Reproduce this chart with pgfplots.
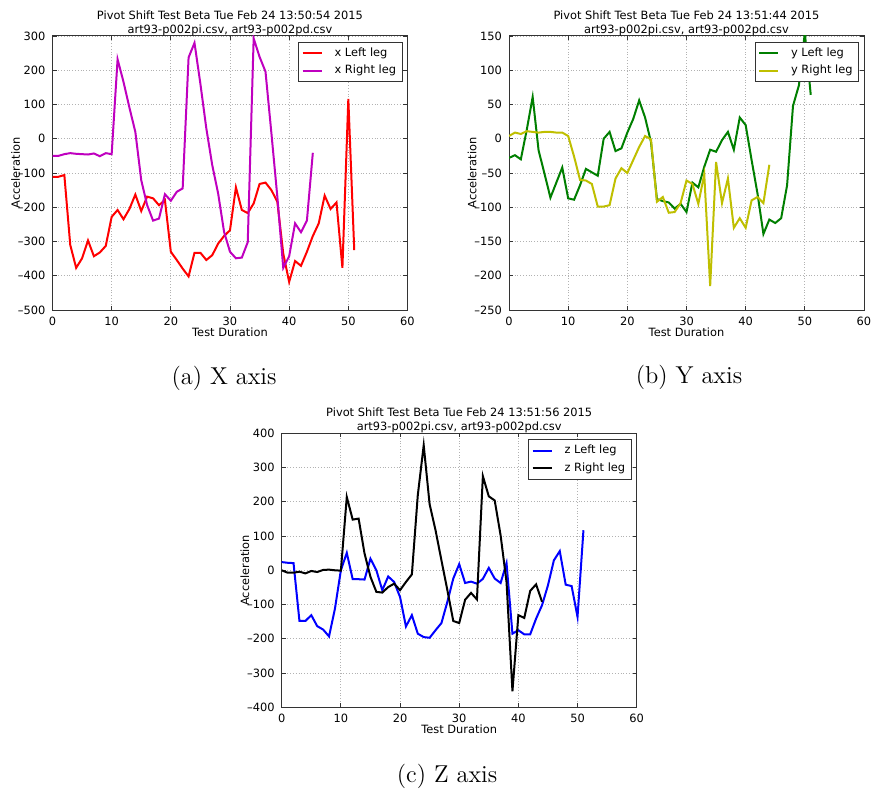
\documentclass[border=0pt]{standalone}
\usepackage{pgfplots}
\pgfplotsset{compat=1.18}
\usepackage{fontspec}
\newfontfamily\dejavu{DejaVu Sans}
\newcommand\cf{\dejavu\fontsize{5.7}{6.8}\selectfont}
\definecolor{mplr}{HTML}{FF0000}
\definecolor{mplm}{HTML}{BF00BF}
\definecolor{mplg}{HTML}{007F00}
\definecolor{mply}{HTML}{BFBF00}
\definecolor{mplb}{HTML}{0000FF}
\pgfplotsset{mpl/.style={
  scale only axis, width=177.5pt, height=137pt,
  xmin=0, xmax=60, xtick={0,10,...,60},
  tick align=inside, major tick length=2pt,
  grid=major, major grid style={densely dotted, gray!60, line width=0.4pt},
  axis line style={line width=0.5pt, black!80},
  every tick/.style={black!80, line width=0.4pt},
  tick label style={font=\cf},
  /pgf/number format/assume math mode=true,
  label style={font=\cf},
  xlabel={Test Duration}, ylabel={Acceleration},
  xlabel style={at={(axis description cs:0.5,-0.08)}, anchor=center},
  ylabel style={at={(axis description cs:-0.104,0.5)}, anchor=center},
  title style={font=\cf, align=center, at={(axis description cs:0.5,1)}, anchor=south, inner sep=0pt, yshift=-6pt},
  legend style={at={(rel axis cs:0.986,0.978)}, anchor=north east, font=\cf,
    draw=black!80, line width=0.5pt, inner xsep=1.5pt, inner ysep=1pt,
    nodes={inner sep=1.5pt, text depth=0.15em},
    /tikz/every odd column/.append style={column sep=4.5pt}},
  legend cell align=left,
  legend image code/.code={\draw[##1, line width=1pt] (0pt,0pt) -- (9.5pt,0pt);},
  every axis plot/.append style={line width=1pt},
}}
\begin{document}
\begin{tikzpicture}
\useasboundingbox (0,0) rectangle (435.5pt,-395.5pt);
% (a)
\begin{axis}[mpl, at={(26.25pt,-18pt)}, anchor=north west,
  ymin=-500, ymax=300, ytick={-500,-400,...,300},
  yticklabels={–500,–400,–300,–200,–100,0,100,200,300},
  title={Pivot Shift Test Beta Tue Feb 24 13:50:54 2015\\art93-p002pi.csv, art93-p002pd.csv}]
\addplot[mplr] coordinates {(0,-111)(1,-111)(2,-106)(3,-310)(4,-377)(5,-349)(6,-297)(7,-343)(8,-332)(9,-313)(10,-228)(11,-208)(12,-235)(13,-205)(14,-163)(15,-211)(16,-169)(17,-174)(18,-194)(19,-179)(20,-330)(21,-354)(22,-379)(23,-402)(24,-333)(25,-333)(26,-354)(27,-340)(28,-306)(29,-284)(30,-267)(31,-142)(32,-208)(33,-217)(34,-189)(35,-132)(36,-128)(37,-150)(38,-184)(39,-335)(40,-418)(41,-357)(42,-371)(43,-330)(44,-284)(45,-247)(46,-166)(47,-205)(48,-186)(49,-377)(50,116)(51,-325)};
\addlegendentry{x Left leg}
\addplot[mplm] coordinates {(0,-50)(1,-50)(2,-45)(3,-42)(4,-44)(5,-45)(6,-46)(7,-43)(8,-51)(9,-42)(10,-45)(11,232)(12,166)(13,91)(14,20)(15,-121)(16,-194)(17,-239)(18,-233)(19,-162)(20,-181)(21,-155)(22,-145)(23,237)(24,280)(25,160)(26,30)(27,-77)(28,-160)(29,-272)(30,-330)(31,-349)(32,-347)(33,-302)(34,293)(35,239)(36,196)(37,16)(38,-169)(39,-377)(40,-343)(41,-247)(42,-273)(43,-239)(44,-41)};
\addlegendentry{x Right leg}
\end{axis}
% (b)
\begin{axis}[mpl, at={(254.5pt,-18pt)}, anchor=north west,
  ymin=-250, ymax=150, ytick={-250,-200,...,150},
  yticklabels={–250,–200,–150,–100,–50,0,50,100,150},
  title={Pivot Shift Test Beta Tue Feb 24 13:51:44 2015\\art93-p002pi.csv, art93-p002pd.csv}]
\addplot[mplg] coordinates {(0,-28)(1,-24)(2,-30)(3,13)(4,61)(5,-17)(6,-51)(7,-86)(8,-64)(9,-42)(10,-87)(11,-89)(12,-68)(13,-44)(14,-49)(15,-54)(16,0)(17,10)(18,-18)(19,-14)(20,9)(21,29)(22,56)(23,31)(24,-5)(25,-88)(26,-91)(27,-93)(28,-102)(29,-95)(30,-107)(31,-64)(32,-71)(33,-41)(34,-16)(35,-19)(36,-2)(37,10)(38,-16)(39,31)(40,20)(41,-31)(42,-80)(43,-139)(44,-118)(45,-123)(46,-116)(47,-68)(48,48)(49,78)(50,155)(51,64)};
\addlegendentry{y Left leg}
\addplot[mply] coordinates {(0,4)(1,9)(2,7)(3,11)(4,10)(5,9)(6,10)(7,10)(8,9)(9,9)(10,4)(11,-26)(12,-60)(13,-61)(14,-66)(15,-99)(16,-99)(17,-97)(18,-58)(19,-43)(20,-50)(21,-31)(22,-12)(23,4)(24,-1)(25,-92)(26,-85)(27,-108)(28,-107)(29,-94)(30,-61)(31,-66)(32,-95)(33,-52)(34,-215)(35,-34)(36,-94)(37,-58)(38,-130)(39,-116)(40,-130)(41,-90)(42,-85)(43,-94)(44,-38)};
\addlegendentry{y Right leg}
\end{axis}
% (c)
\begin{axis}[mpl, at={(140.85pt,-216.65pt)}, anchor=north west,
  ymin=-400, ymax=400, ytick={-400,-300,...,400},
  yticklabels={–400,–300,–200,–100,0,100,200,300,400},
  title={Pivot Shift Test Beta Tue Feb 24 13:51:56 2015\\art93-p002pi.csv, art93-p002pd.csv}]
\addplot[mplb] coordinates {(0,24)(1,22)(2,21)(3,-148)(4,-148)(5,-131)(6,-163)(7,-173)(8,-193)(9,-112)(10,0)(11,51)(12,-26)(13,-26)(14,-27)(15,34)(16,0)(17,-58)(18,-18)(19,-34)(20,-78)(21,-164)(22,-131)(23,-185)(24,-195)(25,-197)(26,-175)(27,-154)(28,-92)(29,-24)(30,18)(31,-37)(32,-33)(33,-39)(34,-25)(35,7)(36,-24)(37,-37)(38,21)(39,-185)(40,-175)(41,-187)(42,-187)(43,-141)(44,-102)(45,-44)(46,29)(47,56)(48,-42)(49,-46)(50,-136)(51,117)};
\addlegendentry{z Left leg}
\addplot[black] coordinates {(0,0)(1,-7)(2,-7)(3,-4)(4,-9)(5,-2)(6,-5)(7,1)(8,2)(9,0)(10,-1)(11,214)(12,148)(13,151)(14,49)(15,-19)(16,-63)(17,-65)(18,-49)(19,-39)(20,-58)(21,-34)(22,-12)(23,219)(24,365)(25,193)(26,117)(27,29)(28,-58)(29,-148)(30,-154)(31,-86)(32,-66)(33,-85)(34,275)(35,216)(36,204)(37,102)(38,-34)(39,-353)(40,-131)(41,-139)(42,-60)(43,-41)(44,-92)};
\addlegendentry{z Right leg}
\end{axis}
\node[font=\fontsize{12.2}{14}\selectfont] at (112pt,-189pt) {(a) X axis};
\node[font=\fontsize{12.2}{14}\selectfont] at (344.5pt,-188.5pt) {(b) Y axis};
\node[font=\fontsize{12.2}{14}\selectfont] at (223.5pt,-388pt) {(c) Z axis};
\end{tikzpicture}
\end{document}
